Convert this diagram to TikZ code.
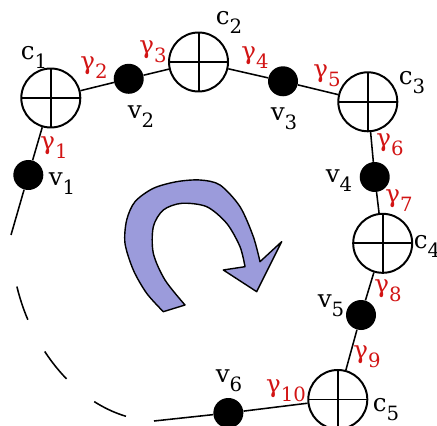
\documentclass[tikz,border=0pt]{standalone}
\usepackage{fontspec}
\setmainfont{DejaVu Serif}
\definecolor{tagred}{RGB}{210,20,20}
\definecolor{turnfill}{RGB}{155,155,219}
\newcommand{\idx}[1]{\raisebox{-0.225cm}{\fontsize{14}{14}\selectfont #1}}
\tikzset{
  junc/.style    ={circle, draw, fill=white, line width=1.4pt,
                   minimum size=1.475cm, inner sep=0pt,
                   path picture={\draw[line width=1.4pt]
                     (path picture bounding box.north) -- (path picture bounding box.south)
                     (path picture bounding box.west) -- (path picture bounding box.east);}},
  vert/.style    ={circle, fill=black, minimum size=0.75cm, inner sep=0pt},
  tag/.style     ={font=\fontsize{17.5}{17.5}\selectfont, inner sep=0pt},
  gtag/.style    ={tag, text=tagred},
  link/.style    ={line width=1.1pt},
  openlink/.style={link, dash pattern=on 0.875cm off 0.9cm on 0.875cm off 0.9cm
                   on 0.875cm off 1.3cm, dash phase=4.425cm},
  turn/.style    ={draw, line width=1pt, fill=turnfill, line join=round},
}
\begin{document}
\begin{tikzpicture}
\useasboundingbox (0, 0) rectangle (10.925, 10.625);

% Turning arrow in the middle
\draw[turn] (4.083, 2.833) -- (4.625, 3.0)
  -- plot[smooth] coordinates {(4.625, 3.0) (4.125, 3.625) (3.833, 4.292)
     (3.833, 4.958) (4.083, 5.375) (4.542, 5.542) (5.167, 5.458)
     (5.667, 5.042) (6.0, 4.458) (6.125, 3.958)}
  -- (5.583, 3.875) -- (6.417, 3.333) -- (7.042, 4.583) -- (6.5, 4.083)
  -- plot[smooth] coordinates {(6.5, 4.083) (6.333, 4.708) (6.0, 5.458)
     (5.5, 6.0) (5.0, 6.125) (4.417, 6.083) (3.833, 5.917) (3.375, 5.583)
     (3.167, 5.125) (3.125, 4.542) (3.333, 3.875) (3.667, 3.292) (4.083, 2.833)}
  -- cycle;

% Crossed circles and dots along the chain
\foreach \n/\x/\y in {c1/1.27/8.175, c2/4.963/9.075, c3/9.195/8.08,
                      c4/9.567/4.542, c5/8.445/0.638} {
  \node[junc] (\n) at (\x, \y) {};
}
\foreach \n/\x/\y in {v1/0.708/6.25, v2/3.218/8.655, v3/7.075/8.593,
                      v4/9.368/6.2, v5/9.025/2.75, v6/5.708/0.3} {
  \node[vert] (\n) at (\x, \y) {};
}

% Chain links
\foreach \a/\b in {c1/v1, c1/v2, v2/c2, c2/v3, v3/c3, c3/v4,
                   v4/c4, c4/v5, v5/c5, c5/v6} {
  \draw[link] (\a) -- (\b);
}

% Open ends, closed by the dashed arc
\coordinate (o1) at (0.275, 4.75);
\coordinate (o6) at (3.85, 0.1);
\draw[link] (v1) -- (o1);
\draw[link] (v6) -- (o6);
\draw[openlink] (o1) .. controls (0.25, 2.375) and (1.875, 0.175) .. (o6);

% Labels
\foreach \i/\x/\y in {1/0.85/9.19, 2/5.725/10.075, 3/10.3/8.55,
                      4/10.675/4.475, 5/9.65/0.375} {
  \node[tag] (cl\i) at (\x, \y) {c\idx{\i}};
}
\foreach \i/\x/\y in {1/1.55/6.025, 2/3.525/7.7, 3/7.1/7.65,
                      4/8.475/6.1, 5/8.275/2.975, 6/5.725/1.1} {
  \node[tag] (vl\i) at (\x, \y) {v\idx{\i}};
}
\foreach \i/\x/\y in {1/1.35/6.925, 2/2.35/8.93, 3/3.825/9.325,
                      4/6.375/9.175, 5/8.175/8.725, 6/9.75/7.0,
                      7/9.975/5.6, 8/9.7/3.35, 9/9.175/1.7, 10/7.15/0.85} {
  \node[gtag] (g\i) at (\x, \y) {γ\idx{\i}};
}

\end{tikzpicture}
\end{document}
